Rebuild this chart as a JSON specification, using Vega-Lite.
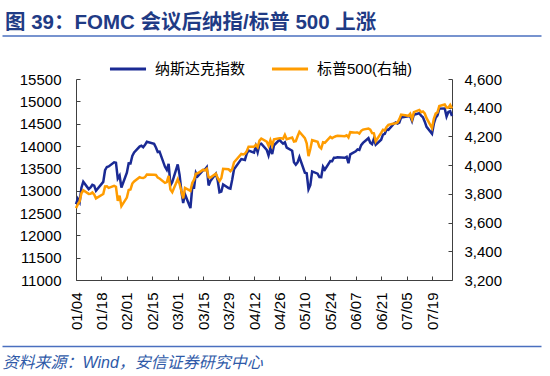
{
  "$schema": "https://vega.github.io/schema/vega-lite/v6.json",
  "background": "white",
  "autosize": {"type": "none"},
  "padding": {"left": 76, "top": 79, "right": 98, "bottom": 96},
  "width": 376,
  "height": 201,
  "title": {"text": "图 39：FOMC 会议后纳指/标普 500 上涨", "anchor": "start", "frame": "group", "orient": "top", "dx": -71, "dy": 23, "font": "Liberation Sans, Noto Sans CJK SC", "fontSize": 20.5, "fontWeight": "bold", "color": "#1F3B85", "baseline": "alphabetic", "offset": 9},
  "config": {
    "font": "Liberation Sans, Noto Sans CJK SC",
    "view": {"stroke": null},
    "axis": {"labelFont": "Liberation Sans", "labelFontSize": 15, "labelColor": "#000000", "domainColor": "#404040", "tickColor": "#404040", "grid": false, "labelOverlap": false, "labelFlush": false, "labelBound": false}
  },
  "datasets": {
    "idx": [
      {"d": "2021-01-04", "nasdaq": 12698, "sp": 3700.65},
      {"d": "2021-01-05", "nasdaq": 12819, "sp": 3726.86},
      {"d": "2021-01-06", "nasdaq": 12741, "sp": 3748.14},
      {"d": "2021-01-07", "nasdaq": 13067, "sp": 3803.79},
      {"d": "2021-01-08", "nasdaq": 13202, "sp": 3824.68},
      {"d": "2021-01-11", "nasdaq": 13036, "sp": 3799.61},
      {"d": "2021-01-12", "nasdaq": 13072, "sp": 3801.19},
      {"d": "2021-01-13", "nasdaq": 13129, "sp": 3809.84},
      {"d": "2021-01-14", "nasdaq": 13112, "sp": 3795.54},
      {"d": "2021-01-15", "nasdaq": 12999, "sp": 3768.25},
      {"d": "2021-01-19", "nasdaq": 13197, "sp": 3798.91},
      {"d": "2021-01-20", "nasdaq": 13457, "sp": 3851.85},
      {"d": "2021-01-21", "nasdaq": 13530, "sp": 3853.07},
      {"d": "2021-01-22", "nasdaq": 13543, "sp": 3841.47},
      {"d": "2021-01-25", "nasdaq": 13635, "sp": 3855.36},
      {"d": "2021-01-26", "nasdaq": 13626, "sp": 3849.62},
      {"d": "2021-01-27", "nasdaq": 13271, "sp": 3750.77},
      {"d": "2021-01-28", "nasdaq": 13337, "sp": 3787.38},
      {"d": "2021-01-29", "nasdaq": 13071, "sp": 3714.24},
      {"d": "2021-02-01", "nasdaq": 13403, "sp": 3773.86},
      {"d": "2021-02-02", "nasdaq": 13612, "sp": 3826.31},
      {"d": "2021-02-03", "nasdaq": 13610, "sp": 3830.17},
      {"d": "2021-02-04", "nasdaq": 13778, "sp": 3871.74},
      {"d": "2021-02-05", "nasdaq": 13856, "sp": 3886.83},
      {"d": "2021-02-08", "nasdaq": 13988, "sp": 3915.59},
      {"d": "2021-02-09", "nasdaq": 14007, "sp": 3911.23},
      {"d": "2021-02-10", "nasdaq": 13973, "sp": 3909.88},
      {"d": "2021-02-11", "nasdaq": 14025, "sp": 3916.38},
      {"d": "2021-02-12", "nasdaq": 14095, "sp": 3934.83},
      {"d": "2021-02-16", "nasdaq": 14047, "sp": 3932.59},
      {"d": "2021-02-17", "nasdaq": 13966, "sp": 3931.33},
      {"d": "2021-02-18", "nasdaq": 13865, "sp": 3913.97},
      {"d": "2021-02-19", "nasdaq": 13874, "sp": 3906.71},
      {"d": "2021-02-22", "nasdaq": 13534, "sp": 3876.50},
      {"d": "2021-02-23", "nasdaq": 13465, "sp": 3881.37},
      {"d": "2021-02-24", "nasdaq": 13598, "sp": 3925.43},
      {"d": "2021-02-25", "nasdaq": 13119, "sp": 3829.34},
      {"d": "2021-02-26", "nasdaq": 13192, "sp": 3811.15},
      {"d": "2021-03-01", "nasdaq": 13589, "sp": 3901.82},
      {"d": "2021-03-02", "nasdaq": 13359, "sp": 3870.29},
      {"d": "2021-03-03", "nasdaq": 12998, "sp": 3819.72},
      {"d": "2021-03-04", "nasdaq": 12723, "sp": 3768.47},
      {"d": "2021-03-05", "nasdaq": 12921, "sp": 3841.94},
      {"d": "2021-03-08", "nasdaq": 12609, "sp": 3821.35},
      {"d": "2021-03-09", "nasdaq": 13073, "sp": 3875.44},
      {"d": "2021-03-10", "nasdaq": 13069, "sp": 3898.81},
      {"d": "2021-03-11", "nasdaq": 13399, "sp": 3939.34},
      {"d": "2021-03-12", "nasdaq": 13320, "sp": 3943.34},
      {"d": "2021-03-15", "nasdaq": 13460, "sp": 3968.94},
      {"d": "2021-03-16", "nasdaq": 13472, "sp": 3962.71},
      {"d": "2021-03-17", "nasdaq": 13525, "sp": 3974.12},
      {"d": "2021-03-18", "nasdaq": 13116, "sp": 3915.46},
      {"d": "2021-03-19", "nasdaq": 13215, "sp": 3913.10},
      {"d": "2021-03-22", "nasdaq": 13378, "sp": 3940.59},
      {"d": "2021-03-23", "nasdaq": 13228, "sp": 3910.52},
      {"d": "2021-03-24", "nasdaq": 12962, "sp": 3889.14},
      {"d": "2021-03-25", "nasdaq": 12978, "sp": 3909.52},
      {"d": "2021-03-26", "nasdaq": 13139, "sp": 3974.54},
      {"d": "2021-03-29", "nasdaq": 13059, "sp": 3971.09},
      {"d": "2021-03-30", "nasdaq": 13046, "sp": 3958.55},
      {"d": "2021-03-31", "nasdaq": 13247, "sp": 3972.89},
      {"d": "2021-04-01", "nasdaq": 13480, "sp": 4019.87},
      {"d": "2021-04-05", "nasdaq": 13706, "sp": 4077.91},
      {"d": "2021-04-06", "nasdaq": 13698, "sp": 4073.94},
      {"d": "2021-04-07", "nasdaq": 13688, "sp": 4079.95},
      {"d": "2021-04-08", "nasdaq": 13830, "sp": 4097.17},
      {"d": "2021-04-09", "nasdaq": 13900, "sp": 4128.80},
      {"d": "2021-04-12", "nasdaq": 13851, "sp": 4127.99},
      {"d": "2021-04-13", "nasdaq": 13996, "sp": 4141.59},
      {"d": "2021-04-14", "nasdaq": 13858, "sp": 4124.66},
      {"d": "2021-04-15", "nasdaq": 14039, "sp": 4170.42},
      {"d": "2021-04-16", "nasdaq": 14052, "sp": 4185.47},
      {"d": "2021-04-19", "nasdaq": 13915, "sp": 4163.26},
      {"d": "2021-04-20", "nasdaq": 13787, "sp": 4134.94},
      {"d": "2021-04-21", "nasdaq": 13951, "sp": 4173.42},
      {"d": "2021-04-22", "nasdaq": 13819, "sp": 4134.98},
      {"d": "2021-04-23", "nasdaq": 14017, "sp": 4180.17},
      {"d": "2021-04-26", "nasdaq": 14138, "sp": 4187.62},
      {"d": "2021-04-27", "nasdaq": 14091, "sp": 4186.72},
      {"d": "2021-04-28", "nasdaq": 14051, "sp": 4183.18},
      {"d": "2021-04-29", "nasdaq": 14082, "sp": 4211.47},
      {"d": "2021-04-30", "nasdaq": 13962, "sp": 4181.17},
      {"d": "2021-05-03", "nasdaq": 13895, "sp": 4192.66},
      {"d": "2021-05-04", "nasdaq": 13634, "sp": 4164.66},
      {"d": "2021-05-05", "nasdaq": 13582, "sp": 4167.59},
      {"d": "2021-05-06", "nasdaq": 13633, "sp": 4201.62},
      {"d": "2021-05-07", "nasdaq": 13752, "sp": 4232.60},
      {"d": "2021-05-10", "nasdaq": 13402, "sp": 4188.43},
      {"d": "2021-05-11", "nasdaq": 13389, "sp": 4152.10},
      {"d": "2021-05-12", "nasdaq": 13032, "sp": 4063.04},
      {"d": "2021-05-13", "nasdaq": 13125, "sp": 4112.50},
      {"d": "2021-05-14", "nasdaq": 13430, "sp": 4173.85},
      {"d": "2021-05-17", "nasdaq": 13380, "sp": 4163.29},
      {"d": "2021-05-18", "nasdaq": 13303, "sp": 4127.83},
      {"d": "2021-05-19", "nasdaq": 13300, "sp": 4115.68},
      {"d": "2021-05-20", "nasdaq": 13536, "sp": 4159.12},
      {"d": "2021-05-21", "nasdaq": 13471, "sp": 4155.86},
      {"d": "2021-05-24", "nasdaq": 13662, "sp": 4197.05},
      {"d": "2021-05-25", "nasdaq": 13658, "sp": 4188.13},
      {"d": "2021-05-26", "nasdaq": 13738, "sp": 4195.99},
      {"d": "2021-05-27", "nasdaq": 13736, "sp": 4200.88},
      {"d": "2021-05-28", "nasdaq": 13749, "sp": 4204.11},
      {"d": "2021-06-01", "nasdaq": 13736, "sp": 4202.04},
      {"d": "2021-06-02", "nasdaq": 13757, "sp": 4208.12},
      {"d": "2021-06-03", "nasdaq": 13615, "sp": 4192.85},
      {"d": "2021-06-04", "nasdaq": 13814, "sp": 4229.89},
      {"d": "2021-06-07", "nasdaq": 13881, "sp": 4226.52},
      {"d": "2021-06-08", "nasdaq": 13925, "sp": 4227.26},
      {"d": "2021-06-09", "nasdaq": 13912, "sp": 4219.55},
      {"d": "2021-06-10", "nasdaq": 14020, "sp": 4239.18},
      {"d": "2021-06-11", "nasdaq": 14070, "sp": 4247.44},
      {"d": "2021-06-14", "nasdaq": 14175, "sp": 4255.15},
      {"d": "2021-06-15", "nasdaq": 14073, "sp": 4246.59},
      {"d": "2021-06-16", "nasdaq": 14040, "sp": 4223.70},
      {"d": "2021-06-17", "nasdaq": 14161, "sp": 4221.86},
      {"d": "2021-06-18", "nasdaq": 14030, "sp": 4166.45},
      {"d": "2021-06-21", "nasdaq": 14141, "sp": 4224.79},
      {"d": "2021-06-22", "nasdaq": 14254, "sp": 4246.44},
      {"d": "2021-06-23", "nasdaq": 14272, "sp": 4241.84},
      {"d": "2021-06-24", "nasdaq": 14370, "sp": 4266.49},
      {"d": "2021-06-25", "nasdaq": 14360, "sp": 4280.70},
      {"d": "2021-06-28", "nasdaq": 14500, "sp": 4290.61},
      {"d": "2021-06-29", "nasdaq": 14528, "sp": 4291.80},
      {"d": "2021-06-30", "nasdaq": 14504, "sp": 4297.50},
      {"d": "2021-07-01", "nasdaq": 14523, "sp": 4319.94},
      {"d": "2021-07-02", "nasdaq": 14640, "sp": 4352.34},
      {"d": "2021-07-06", "nasdaq": 14664, "sp": 4343.54},
      {"d": "2021-07-07", "nasdaq": 14665, "sp": 4358.13},
      {"d": "2021-07-08", "nasdaq": 14560, "sp": 4320.82},
      {"d": "2021-07-09", "nasdaq": 14701, "sp": 4369.55},
      {"d": "2021-07-12", "nasdaq": 14734, "sp": 4384.63},
      {"d": "2021-07-13", "nasdaq": 14678, "sp": 4369.21},
      {"d": "2021-07-14", "nasdaq": 14645, "sp": 4374.30},
      {"d": "2021-07-15", "nasdaq": 14544, "sp": 4360.03},
      {"d": "2021-07-16", "nasdaq": 14428, "sp": 4327.16},
      {"d": "2021-07-19", "nasdaq": 14275, "sp": 4258.49},
      {"d": "2021-07-20", "nasdaq": 14499, "sp": 4323.06},
      {"d": "2021-07-21", "nasdaq": 14632, "sp": 4358.69},
      {"d": "2021-07-22", "nasdaq": 14685, "sp": 4367.48},
      {"d": "2021-07-23", "nasdaq": 14837, "sp": 4411.79},
      {"d": "2021-07-26", "nasdaq": 14840, "sp": 4422.30},
      {"d": "2021-07-27", "nasdaq": 14660, "sp": 4401.46},
      {"d": "2021-07-28", "nasdaq": 14763, "sp": 4400.64},
      {"d": "2021-07-29", "nasdaq": 14779, "sp": 4419.15},
      {"d": "2021-07-30", "nasdaq": 14673, "sp": 4395.26}
    ]
  },
  "data": {"name": "idx"},
  "layer": [
    {
      "mark": {"type": "line", "strokeWidth": 2.5},
      "encoding": {
        "x": {
          "field": "d", "type": "temporal", "title": null,
          "scale": {"type": "utc", "domain": [{"year": 2021, "month": 1, "date": 4, "utc": true}, {"year": 2021, "month": 7, "date": 30, "utc": true}]},
          "axis": {
            "values": [
              {"year": 2021, "month": 1, "date": 4, "utc": true},
              {"year": 2021, "month": 1, "date": 18, "utc": true},
              {"year": 2021, "month": 2, "date": 1, "utc": true},
              {"year": 2021, "month": 2, "date": 15, "utc": true},
              {"year": 2021, "month": 3, "date": 1, "utc": true},
              {"year": 2021, "month": 3, "date": 15, "utc": true},
              {"year": 2021, "month": 3, "date": 29, "utc": true},
              {"year": 2021, "month": 4, "date": 12, "utc": true},
              {"year": 2021, "month": 4, "date": 26, "utc": true},
              {"year": 2021, "month": 5, "date": 10, "utc": true},
              {"year": 2021, "month": 5, "date": 24, "utc": true},
              {"year": 2021, "month": 6, "date": 7, "utc": true},
              {"year": 2021, "month": 6, "date": 21, "utc": true},
              {"year": 2021, "month": 7, "date": 5, "utc": true},
              {"year": 2021, "month": 7, "date": 19, "utc": true}
            ],
            "format": "%m/%d",
            "labelAngle": -90,
            "tickSize": -4,
            "labelPadding": 16
          }
        },
        "y": {"field": "nasdaq", "type": "quantitative", "title": null, "scale": {"domain": [11000, 15500], "zero": false, "nice": false},
          "axis": {"orient": "left", "values": [11000, 11500, 12000, 12500, 13000, 13500, 14000, 14500, 15000, 15500], "format": "d", "tickSize": -4, "labelPadding": 19}},
        "color": {"datum": "纳斯达克指数", "type": "nominal",
          "scale": {"domain": ["纳斯达克指数", "标普500(右轴)"], "range": ["#1A2A94", "#FF9C00"]},
          "legend": {"orient": "none", "legendX": 32, "legendY": -30, "direction": "horizontal", "columns": 2, "title": null, "symbolType": "stroke", "symbolStrokeWidth": 3, "symbolSize": 1300, "labelFont": "Liberation Sans, Noto Sans CJK SC", "labelFontSize": 15, "labelColor": "#000000", "labelOffset": 7, "columnPadding": 19, "labelLimit": 0}}
      }
    },
    {
      "mark": {"type": "line", "strokeWidth": 2.5},
      "encoding": {
        "x": {"field": "d", "type": "temporal", "axis": null,
          "scale": {"type": "utc", "domain": [{"year": 2021, "month": 1, "date": 4, "utc": true}, {"year": 2021, "month": 7, "date": 30, "utc": true}]}},
        "y": {"field": "sp", "type": "quantitative", "title": null, "scale": {"domain": [3200, 4600], "zero": false, "nice": false},
          "axis": {"orient": "right", "values": [3200, 3400, 3600, 3800, 4000, 4200, 4400, 4600], "format": ",d", "tickSize": -4, "labelPadding": 16}},
        "color": {"datum": "标普500(右轴)", "type": "nominal"}
      }
    },
    {
      "mark": {"type": "rule", "opacity": 0},
      "encoding": {
        "x": {"datum": 0, "type": "quantitative", "scale": {"domain": [0, 1], "range": [-74, 465]},
          "axis": {"orient": "top", "offset": 43.5, "domain": true, "domainColor": "#4A6FBF", "domainWidth": 1.5, "ticks": false, "labels": false, "title": null, "grid": false}}
      }
    },
    {
      "mark": {"type": "rule", "opacity": 0},
      "encoding": {
        "x": {"datum": 0, "type": "quantitative", "scale": {"domain": [0, 1], "range": [-74, 465]},
          "axis": {"orient": "bottom", "offset": 66, "domain": true, "domainColor": "#4A6FBF", "domainWidth": 1.5, "ticks": false, "labels": false, "grid": false,
            "title": "资料来源：Wind，安信证券研究中心", "titleAnchor": "start", "titleAlign": "left", "titleBaseline": "top", "titlePadding": 8, "titleFont": "Liberation Sans, Noto Sans CJK SC", "titleFontSize": 16, "titleFontWeight": "normal", "titleFontStyle": "italic", "titleColor": "#2F5AA8"}}
      }
    }
  ],
  "resolve": {"scale": {"x": "independent", "y": "independent"}, "axis": {"x": "independent", "y": "independent"}}
}
